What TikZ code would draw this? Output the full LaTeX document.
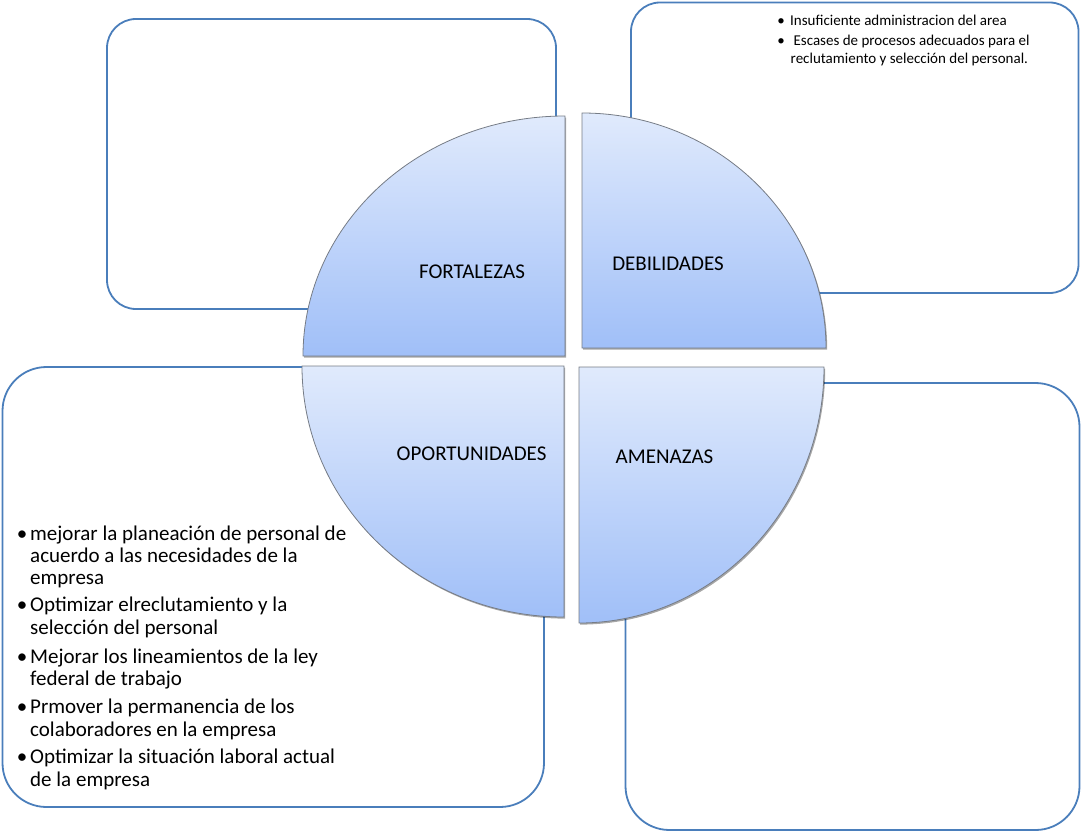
\documentclass[tikz,border=0pt]{standalone}
\usepackage{fontspec}
\setmainfont{Carlito}
\usetikzlibrary{shadows}
\definecolor{boxblue}{RGB}{74,126,187}
\definecolor{qtop}{RGB}{224,234,252}
\definecolor{qbot}{RGB}{160,191,248}
\definecolor{qedge}{RGB}{118,124,134}
\tikzset{
  boxline/.style={draw=boxblue, line width=1.8pt},
  quarter/.style={top color=qtop, bottom color=qbot, draw=qedge, line width=0.8pt,
    drop shadow={shadow xshift=1.2pt, shadow yshift=-1.6pt, opacity=0.35, fill=black}},
  qlabel/.style={font=\fontsize{21}{25}\selectfont, inner sep=0pt, anchor=base},
  listline/.style={font=\fontsize{21}{25}\selectfont, inner sep=0pt, anchor=base west},
  listbullet/.style={font=\fontsize{21}{25}\selectfont, inner sep=0pt, anchor=base},
  smalltext/.style={font=\fontsize{15}{18}\selectfont, inner sep=0pt, anchor=base west},
  smallbullet/.style={font=\fontsize{15}{18}\selectfont, inner sep=0pt, anchor=base},
}
\begin{document}
\begin{tikzpicture}[x=1pt,y=-1pt]
\useasboundingbox (0,0) rectangle (1081,832);
% boxes
\draw[boxline, rounded corners=29pt] (107,19) rectangle (556,309);
\draw[boxline, rounded corners=29pt] (631,2.5) rectangle (1078.5,293);
\draw[boxline, rounded corners=44pt] (2.5,367) rectangle (544,807);
\draw[boxline, rounded corners=44pt] (625.5,383) rectangle (1079.5,830);
% quarters
\path[quarter] (565,356) -- (303,356) arc[start angle=180, end angle=270, x radius=262, y radius=240] -- cycle;
\path[quarter] (582,348) -- (582,113) arc[start angle=270, end angle=360, x radius=244, y radius=235] -- cycle;
\path[quarter] (564,366) -- (302,366) arc[start angle=180, end angle=90, x radius=262, y radius=251] -- cycle;
\path[quarter] (579,367) -- (824,367) arc[start angle=0, end angle=90, x radius=245, y radius=256] -- cycle;
% labels
\node[qlabel] (fort) at (472,278.7) {FORTALEZAS};
\node[qlabel] (debi) at (668,270.7) {DEBILIDADES};
\node[qlabel] (opor) at (471.5,460.7) {OPORTUNIDADES};
\node[qlabel] (amen) at (664.5,463.4) {AMENAZAS};
% debilidades list
\node[smallbullet] (db1) at (781,26) {•};
\node[smalltext] (dt1) at (790,26) {Insuficiente administracion del area};
\node[smallbullet] (db2) at (781,46) {•};
\node[smalltext] (dt2) at (790,46) {\ Escases de procesos adecuados para el};
\node[smalltext] (dt3) at (790.5,64) {reclutamiento y selección del personal.};
% oportunidades list
\node[listbullet] (ob1) at (22,540) {•};
\node[listline] (o1a) at (30,540) {mejorar la planeación de personal de};
\node[listline] (o1b) at (30,562) {acuerdo a las necesidades de la};
\node[listline] (o1c) at (30,584) {empresa};
\node[listbullet] (ob2) at (22,611.5) {•};
\node[listline] (o2a) at (30,611.5) {Optimizar elreclutamiento y la};
\node[listline] (o2b) at (30,634) {selección del personal};
\node[listbullet] (ob3) at (22,663) {•};
\node[listline] (o3a) at (30,663) {Mejorar los lineamientos de la ley};
\node[listline] (o3b) at (30,685) {federal de trabajo};
\node[listbullet] (ob4) at (22,713) {•};
\node[listline] (o4a) at (30,713) {Prmover la permanencia de los};
\node[listline] (o4b) at (30,736) {colaboradores en la empresa};
\node[listbullet] (ob5) at (22,763) {•};
\node[listline] (o5a) at (30,763) {Optimizar la situación laboral actual};
\node[listline] (o5b) at (30,786) {de la empresa};
\end{tikzpicture}
\end{document}
